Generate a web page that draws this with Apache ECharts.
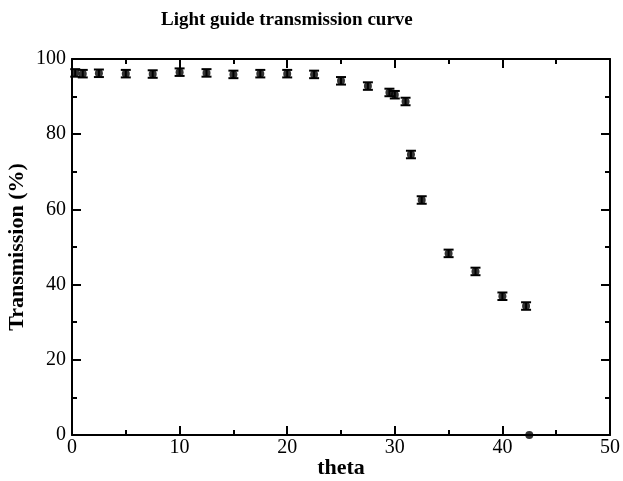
<!DOCTYPE html>
<html>
<head>
<meta charset="utf-8">
<script src="https://cdn.jsdelivr.net/npm/echarts@6/dist/echarts.min.js"></script>
<style>
  html, body { margin: 0; padding: 0; background: #fff; }
  #chart { width: 623px; height: 481px; }
</style>
</head>
<body>
<div id="chart"></div>
<script>
// measured points
const theta = [0.3, 1, 2.5, 5, 7.5, 10, 12.5, 15, 17.5, 20, 22.5, 25, 27.5, 29.5, 30, 31, 31.5, 32.5, 35, 37.5, 40, 42.2, 42.5];
const transmission = [96.3, 96.1, 96.2, 96.1, 96.0, 96.5, 96.3, 95.9, 96.1, 96.1, 95.9, 94.2, 92.8, 91.1, 90.5, 88.7, 74.6, 62.5, 48.3, 43.5, 36.9, 34.3, 0];
const errors = [1, 1, 1, 1, 1, 1, 1, 1, 1, 1, 1, 1, 1, 1, 1, 1, 1, 1, 1, 1, 1, 1, 0];

const font = "Liberation Serif";
const points = theta.map((t, i) => [t, transmission[i]]);
const bars = theta.map((t, i) => [t, transmission[i] - errors[i], transmission[i] + errors[i]]);

const tickStyle = { color: "#000", width: 2 };

function xAxisCfg(pos, show) {
  return {
    type: "value", position: pos, min: 0, max: 50, interval: 10,
    axisLine: { show: true, onZero: false, lineStyle: { color: "#000", width: 2 } },
    axisTick: { show: true, inside: true, length: 9, lineStyle: tickStyle },
    minorTick: { show: true, splitNumber: 2, length: 5, lineStyle: tickStyle },
    axisLabel: { show: show, color: "#000", fontFamily: font, fontSize: 20, margin: 3 },
    splitLine: { show: false },
    name: show ? "theta" : "", nameLocation: "middle", nameGap: 22, nameMoveOverlap: false,
    nameTextStyle: { color: "#000", fontFamily: font, fontSize: 22, fontWeight: "bold" }
  };
}
function yAxisCfg(pos, show) {
  return {
    type: "value", position: pos, min: 0, max: 100, interval: 20,
    axisLine: { show: true, onZero: false, lineStyle: { color: "#000", width: 2 } },
    axisTick: { show: true, inside: true, length: 9, lineStyle: tickStyle },
    minorTick: { show: true, splitNumber: 2, length: 5, lineStyle: tickStyle },
    axisLabel: { show: show, color: "#000", fontFamily: font, fontSize: 20, margin: 6 },
    splitLine: { show: false },
    name: show ? "Transmission (%)" : "", nameLocation: "middle", nameGap: 44, nameMoveOverlap: false,
    nameTextStyle: { color: "#000", fontFamily: font, fontSize: 22, fontWeight: "bold" }
  };
}

const chart = echarts.init(document.getElementById("chart"));
chart.setOption({
  animation: false,
  title: {
    text: "Light guide transmission curve",
    left: 156, top: 6,
    textStyle: { color: "#000", fontFamily: font, fontSize: 19, fontWeight: "bold" }
  },
  grid: { left: 72, right: 13, top: 59, bottom: 46, outerBoundsMode: "none", containLabel: false },
  xAxis: [xAxisCfg("bottom", true), xAxisCfg("top", false)],
  yAxis: [yAxisCfg("left", true), yAxisCfg("right", false)],
  series: [
    {
      type: "custom",
      data: bars,
      renderItem: function (params, api) {
        if (api.value(2) - api.value(1) <= 0) return null;
        const lo = api.coord([api.value(0), api.value(1)]);
        const hi = api.coord([api.value(0), api.value(2)]);
        const w = 5;
        const st = { stroke: "#000", lineWidth: 2 };
        return {
          type: "group",
          children: [
            { type: "line", shape: { x1: lo[0], y1: lo[1], x2: hi[0], y2: hi[1] }, style: st },
            { type: "line", shape: { x1: lo[0] - w, y1: lo[1], x2: lo[0] + w, y2: lo[1] }, style: st },
            { type: "line", shape: { x1: hi[0] - w, y1: hi[1], x2: hi[0] + w, y2: hi[1] }, style: st }
          ]
        };
      },
      z: 2
    },
    {
      type: "scatter",
      data: points,
      symbol: "circle",
      symbolSize: 8,
      itemStyle: { color: "#000" },
      clip: false,
      z: 3
    }
  ]
});
</script>
</body>
</html>
